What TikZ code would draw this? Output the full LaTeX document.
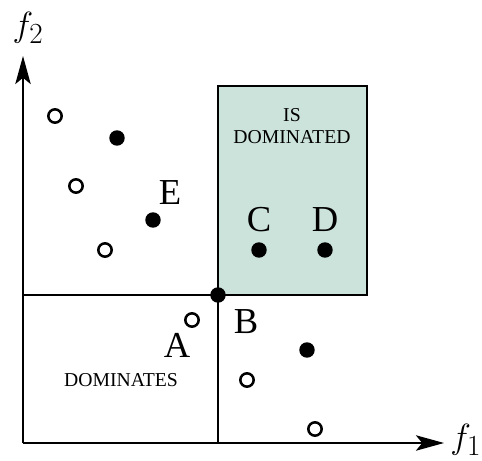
\documentclass[tikz,border=0pt]{standalone}
\usepackage{fontspec}
\setmainfont{Liberation Serif}
\usetikzlibrary{arrows.meta}

\begin{document}
\begin{tikzpicture}[x=0.025cm, y=-0.025cm,
        opendot/.style={
        circle, draw=black, line width=1.8pt,
        inner sep=0pt, minimum size=9.5pt,
        fill=white},
        fulldot/.style={
        circle, fill=black,
        inner sep=0pt, minimum size=11pt},
        lbl/.style={font=\fontsize{26}{30}\selectfont, inner sep=0pt},
        axlbl/.style={font=\fontsize{28}{32}\selectfont, inner sep=0pt},
        region/.style={font=\fontsize{14}{16}\selectfont, align=center, inner sep=0pt},
        ]
        \useasboundingbox (0,0) rectangle (482,461);

        % dominated region
        \draw[fill={rgb,255:red,204;green,227;blue,219}, line width=0.9pt] (218,86) rectangle (367,295);
        \node[region] at (292,126) {IS\\DOMINATED};

        % axes
        \coordinate (O) at (23,443);
        \coordinate (xend) at (444,443);
        \coordinate (yend) at (23,56);
        \draw[line width=1pt, -{Stealth[length=20pt, width=11pt, inset=4.5pt]}] (O) -- (xend);
        \draw[line width=1pt, -{Stealth[length=20pt, width=11pt, inset=4.5pt]}] (O) -- (yend);
        \node[axlbl, anchor=west] at (450,440) {$f_1$};
        \node[axlbl] at (28,28) {$f_2$};

        % dominating region
        \draw[line width=0.9pt] (23,295) -- (218,295) (218,295) -- (218,443);
        \node[region] at (121,380) {DOMINATES};

        % points
        \node (p1) [opendot] at (55,116) {};
        \node (p2) [fulldot] at (117,138) {};
        \node (p3) [opendot] at (76,186) {};
        \node (E)  [fulldot] at (153,220) {};
        \node (p4) [opendot] at (105,250) {};
        \node (C)  [fulldot] at (259,250) {};
        \node (D)  [fulldot] at (325,250) {};
        \node (B)  [fulldot] at (218,295) {};
        \node (A)  [opendot] at (192,320) {};
        \node (p5) [fulldot] at (307,350) {};
        \node (p6) [opendot] at (247,380) {};
        \node (p7) [opendot] at (315,429) {};

        \node[lbl] at (170,193) {E};
        \node[lbl] at (259,220) {C};
        \node[lbl] at (325,220) {D};
        \node[lbl] at (246,322) {B};
        \node[lbl] at (177,345) {A};
\end{tikzpicture}
\end{document}
